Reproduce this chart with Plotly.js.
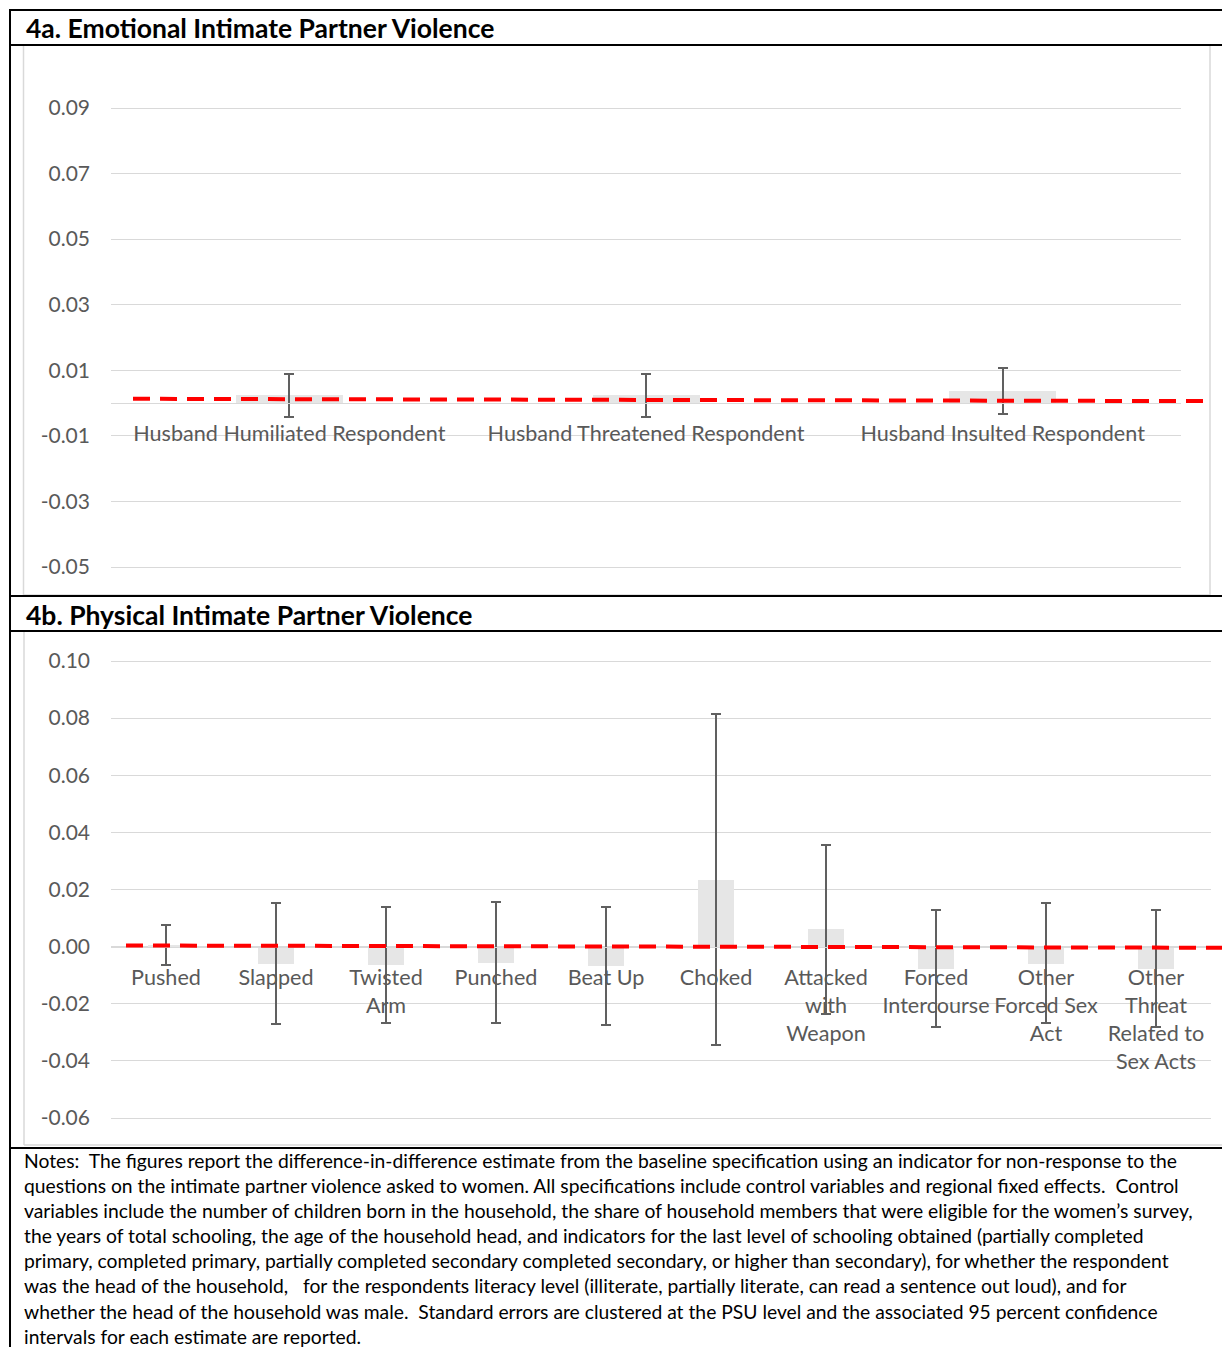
<!DOCTYPE html>
<html>
<head>
<meta charset="utf-8">
<script src="https://cdn.plot.ly/plotly-3.0.1.min.js"></script>
<style>html,body{margin:0;padding:0;background:#fff;}#chart{width:1222px;height:1347px;}</style>
</head>
<body>
<div id="chart"></div>
<script>
// ---- Data: 4a Emotional IPV ----
const emoCategories = ["Husband Humiliated Respondent", "Husband Threatened Respondent", "Husband Insulted Respondent"];
const emoEstimate = [0.0025, 0.0026, 0.0038];
const emoLower = [-0.0041, -0.0041, -0.0033];
const emoUpper = [0.0088, 0.0088, 0.0108];
const emoRefLine = [0.0013, 0.0006];
const emoTickVals = [-0.05, -0.03, -0.01, 0.01, 0.03, 0.05, 0.07, 0.09];
const emoTickText = ["-0.05", "-0.03", "-0.01", "0.01", "0.03", "0.05", "0.07", "0.09"];

// ---- Data: 4b Physical IPV ----
const physCategories = ["Pushed", "Slapped", "Twisted Arm", "Punched", "Beat Up", "Choked",
  "Attacked with Weapon", "Forced Intercourse", "Other Forced Sex Act", "Other Threat Related to Sex Acts"];
const physLabels = ["Pushed", "Slapped", "Twisted<br>Arm", "Punched", "Beat Up", "Choked",
  "Attacked<br>with<br>Weapon", "Forced<br>Intercourse", "Other<br>Forced Sex<br>Act", "Other<br>Threat<br>Related to<br>Sex Acts"];
const physEstimate = [0.0007, -0.0060, -0.0066, -0.0056, -0.0067, 0.0235, 0.0062, -0.0077, -0.0060, -0.0077];
const physLower = [-0.0065, -0.0270, -0.0268, -0.0267, -0.0273, -0.0346, -0.0236, -0.0282, -0.0268, -0.0282];
const physUpper = [0.0077, 0.0154, 0.0138, 0.0157, 0.0140, 0.0813, 0.0357, 0.0127, 0.0152, 0.0127];
const physRefLine = [0.0004, -0.0004];
const physTickVals = [-0.06, -0.04, -0.02, 0.00, 0.02, 0.04, 0.06, 0.08, 0.10];
const physTickText = ["-0.06", "-0.04", "-0.02", "0.00", "0.02", "0.04", "0.06", "0.08", "0.10"];

const notesText = "Notes:  The figures report the difference-in-difference estimate from the baseline specification using an indicator for non-response to the<br>" +
  "questions on the intimate partner violence asked to women. All specifications include control variables and regional fixed effects.  Control<br>" +
  "variables include the number of children born in the household, the share of household members that were eligible for the women\u2019s survey,<br>" +
  "the years of total schooling, the age of the household head, and indicators for the last level of schooling obtained (partially completed<br>" +
  "primary, completed primary, partially completed secondary completed secondary, or higher than secondary), for whether the respondent<br>" +
  "was the head of the household,   for the respondents literacy level (illiterate, partially literate, can read a sentence out loud), and for<br>" +
  "whether the head of the household was male.  Standard errors are clustered at the PSU level and the associated 95 percent confidence<br>" +
  "intervals for each estimate are reported.";

// ---- Layout helpers (pixel -> paper) ----
const W = 1222, H = 1347;
const X = px => px / W;
const Y = py => 1 - py / H;

const FONT = "Lato, 'Open Sans', sans-serif";
const GRID = "#d9d9d9";
const TXT = "#595959";
const BAR = "#e6e6e6";

function errArrays(est, lo, hi) {
  return {
    type: "data", symmetric: false,
    array: hi.map((h, i) => h - est[i]),
    arrayminus: lo.map((l, i) => est[i] - l),
    color: "#606060", thickness: 2, width: 5
  };
}

const traces = [
  { type: "bar", x: emoCategories, y: emoEstimate, xaxis: "x", yaxis: "y",
    marker: { color: BAR }, width: 0.3, error_y: errArrays(emoEstimate, emoLower, emoUpper),
    showlegend: false, hoverinfo: "skip" },
  { type: "scatter", mode: "lines", x: [0, 1], y: emoRefLine, xaxis: "x3", yaxis: "y3",
    line: { color: "#ff0000", width: 4, dash: "17px,10px" }, showlegend: false, hoverinfo: "skip" },
  { type: "bar", x: physCategories, y: physEstimate, xaxis: "x2", yaxis: "y2",
    marker: { color: BAR }, width: 0.33, error_y: errArrays(physEstimate, physLower, physUpper),
    showlegend: false, hoverinfo: "skip" },
  { type: "scatter", mode: "lines", x: [0, 1], y: physRefLine, xaxis: "x4", yaxis: "y4",
    line: { color: "#ff0000", width: 4, dash: "17px,10px" }, showlegend: false, hoverinfo: "skip" }
];

// 4a y geometry: 0.09 at py 108, -0.05 at py 567
const aScale = (567 - 108) / 0.14;
const aTop = 75, aBot = 590;
const aRange = [-0.05 - (aBot - 567) / aScale, 0.09 + (108 - aTop) / aScale];
const aZero = 108 + 0.09 * aScale;
// 4b y geometry: 0.10 at py 661, -0.06 at py 1118
const bScale = (1118 - 661) / 0.16;
const bTop = 645, bBot = 1140;
const bRange = [-0.06 - (bBot - 1118) / bScale, 0.10 + (661 - bTop) / bScale];
const bZero = 661 + 0.10 * bScale;

const yCommon = {
  tickmode: "array", showgrid: true, gridcolor: GRID, gridwidth: 1, zeroline: false,
  showline: false, ticks: "", tickfont: { family: FONT, size: 21, color: TXT },
  ticklabelstandoff: 20, fixedrange: true
};
const xCommon = {
  type: "category", anchor: "free", showgrid: false, zeroline: false, showline: true,
  linecolor: GRID, linewidth: 1, ticks: "", tickfont: { family: FONT, size: 21.6, color: TXT },
  tickangle: 0, fixedrange: true
};

const layout = {
  width: W, height: H,
  margin: { l: 0, r: 0, t: 0, b: 0 },
  paper_bgcolor: "#ffffff", plot_bgcolor: "rgba(0,0,0,0)",
  bargap: 0, showlegend: false,
  xaxis: Object.assign({}, xCommon, { domain: [X(111), X(1181)], position: Y(aZero), ticklabelstandoff: 11 }),
  yaxis: Object.assign({}, yCommon, { domain: [Y(aBot), Y(aTop)], range: aRange, anchor: "x",
    tickvals: emoTickVals, ticktext: emoTickText }),
  xaxis2: Object.assign({}, xCommon, { domain: [X(111), X(1211)], position: Y(bZero), ticklabelstandoff: 11 }),
  yaxis2: Object.assign({}, yCommon, { domain: [Y(bBot), Y(bTop)], range: bRange, anchor: "x2",
    tickvals: physTickVals, ticktext: physTickText }),
  xaxis3: { domain: [X(133), X(1210)], range: [0, 1], visible: false, anchor: "y3", fixedrange: true },
  yaxis3: { domain: [Y(aBot), Y(aTop)], range: aRange, visible: false, anchor: "x3", fixedrange: true },
  xaxis4: { domain: [X(126), 1], range: [0, 1], visible: false, anchor: "y4", fixedrange: true },
  yaxis4: { domain: [Y(bBot), Y(bTop)], range: bRange, visible: false, anchor: "x4", fixedrange: true },
  annotations: [
    { text: "<b>4a. Emotional Intimate Partner Violence</b>", xref: "paper", yref: "paper",
      x: X(24), y: Y(28), xanchor: "left", yanchor: "middle", showarrow: false,
      font: { family: FONT, size: 26.5, color: "#000000" } },
    { text: "<b>4b. Physical Intimate Partner Violence</b>", xref: "paper", yref: "paper",
      x: X(24), y: Y(615), xanchor: "left", yanchor: "middle", showarrow: false,
      font: { family: FONT, size: 26.5, color: "#000000" } },
    { text: notesText, xref: "paper", yref: "paper", x: X(22), y: Y(1147),
      xanchor: "left", yanchor: "top", align: "left", showarrow: false,
      font: { family: FONT, size: 19.3, color: "#000000" } }
  ],
  shapes: [
    // light gray chart-area borders
    { type: "rect", xref: "paper", yref: "paper", x0: X(23.5), x1: X(1210), y0: Y(595), y1: Y(45),
      line: { color: GRID, width: 1.5 }, layer: "below" },
    { type: "line", xref: "paper", yref: "paper", x0: X(24), x1: X(24), y0: Y(631), y1: Y(1145),
      line: { color: GRID, width: 1.5 } },
    { type: "line", xref: "paper", yref: "paper", x0: X(24), x1: 1, y0: Y(1145), y1: Y(1145),
      line: { color: GRID, width: 1.5 } },
    // black table borders
    { type: "line", xref: "paper", yref: "paper", x0: X(9), x1: 1, y0: Y(10), y1: Y(10), line: { color: "#000", width: 2 } },
    { type: "line", xref: "paper", yref: "paper", x0: X(10), x1: X(10), y0: Y(9), y1: 0, line: { color: "#000", width: 2 } },
    { type: "line", xref: "paper", yref: "paper", x0: X(10), x1: 1, y0: Y(45), y1: Y(45), line: { color: "#000", width: 2 } },
    { type: "line", xref: "paper", yref: "paper", x0: X(10), x1: 1, y0: Y(596), y1: Y(596), line: { color: "#000", width: 2 } },
    { type: "line", xref: "paper", yref: "paper", x0: X(10), x1: 1, y0: Y(631), y1: Y(631), line: { color: "#000", width: 2 } },
    { type: "line", xref: "paper", yref: "paper", x0: X(10), x1: 1, y0: Y(1148), y1: Y(1148), line: { color: "#000", width: 2 } }
  ]
};

// multi-line tick labels for 4b from the label array
layout.xaxis2.tickmode = "array";
layout.xaxis2.tickvals = physCategories;
layout.xaxis2.ticktext = physLabels;

Plotly.newPlot("chart", traces, layout, { staticPlot: true, displayModeBar: false });
</script>
</body>
</html>
